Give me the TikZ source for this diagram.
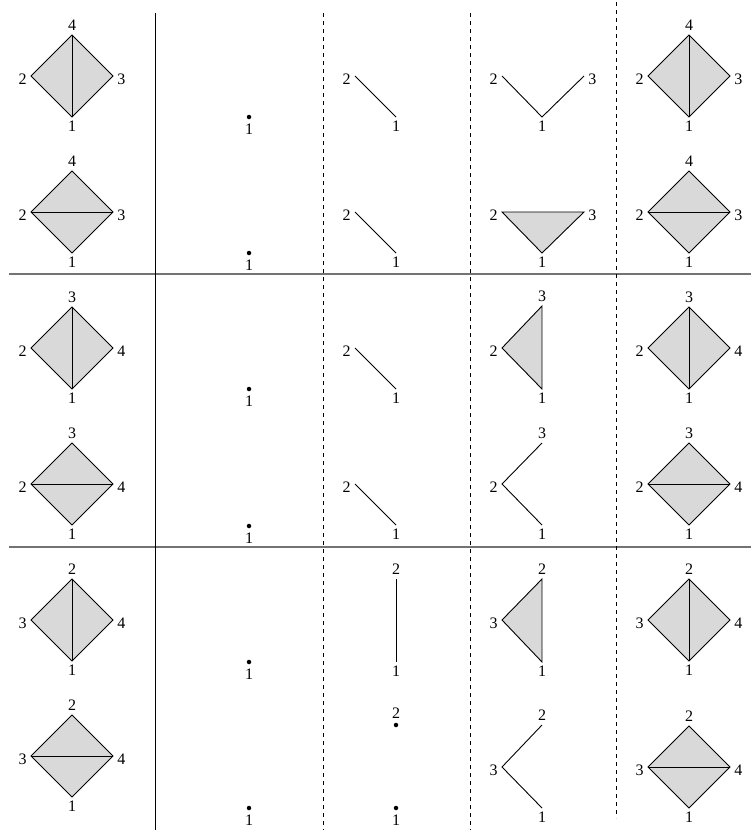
\documentclass[tikz,border=0pt]{standalone}
\usepackage{fontspec}
\setmainfont{Liberation Serif}
\usetikzlibrary{positioning}

% rhombus with one diagonal: name, x, y, top, left, right, bottom, diagonal ends
\newcommand{\rhombcell}[9]{%
  \coordinate (#1t) at (#2,#3-41);
  \coordinate (#1l) at (#2-41,#3);
  \coordinate (#1r) at (#2+41,#3);
  \coordinate (#1b) at (#2,#3+41);
  \filldraw[face] (#1t) -- (#1l) -- (#1b) -- (#1r) -- cycle;
  \draw[edge] (#1#8) -- (#1#9);
  \node[above] (#1T) at (#1t) {#4};
  \node[side,left] (#1L) at (#1l) {#5};
  \node[side,right] (#1R) at (#1r) {#6};
  \node[below] (#1B) at (#1b) {#7};
}

\begin{document}
\begin{tikzpicture}[x=1pt,y=-1pt,
  every node/.style={font=\fontsize{16}{19}\selectfont,inner sep=4.2pt},
  face/.style={draw,fill=black!15,line width=0.9pt},
  edge/.style={line width=0.9pt},
  side/.style={yshift=-3pt},
  vdot/.style={circle,fill,inner sep=0pt,minimum size=4.5pt},
  rule/.style={line width=1.2pt,black!55},
  sep/.style={line width=0.7pt},
  dsep/.style={line width=0.7pt,dash pattern=on 4pt off 4pt}
]
\useasboundingbox (0,0) rectangle (751,830);

% grid
\draw[rule] (9,274) -- (751,274);
\draw[rule] (9,547) -- (751,547);
\draw[sep] (155,13) -- (155,830);
\draw[dsep] (323,13) -- (323,830);
\draw[dsep] (470,13) -- (470,830);
\draw[dsep] (616,2) -- (616,818);

% first column
\rhombcell{pa}{72}{76}{4}{2}{3}{1}{t}{b}
\rhombcell{pb}{72}{212}{4}{2}{3}{1}{l}{r}
\rhombcell{pc}{72}{348}{3}{2}{4}{1}{t}{b}
\rhombcell{pd}{72}{484}{3}{2}{4}{1}{l}{r}
\rhombcell{pe}{72}{620}{2}{3}{4}{1}{t}{b}
\rhombcell{pf}{72}{756}{2}{3}{4}{1}{l}{r}

% vertices
\foreach \n/\y in {a/117,b/253,c/389,d/526,e/662,f/808} {
  \node[vdot] (d\n) at (249,\y) {};
  \node[below=0pt of d\n] (d\n1) {1};
}

% edges
\foreach \n/\u/\v in {a/76/117,b/212/253,c/348/389,d/484/525} {
  \coordinate (e\n2) at (355,\u);
  \coordinate (e\n1) at (396,\v);
  \draw[edge] (e\n2) -- (e\n1);
  \node[side,left] (e\n2l) at (e\n2) {2};
  \node[below] (e\n1l) at (e\n1) {1};
}
\coordinate (ee2) at (396,579);
\coordinate (ee1) at (396,662);
\draw[edge] (ee2) -- (ee1);
\node[above] (ee2l) at (ee2) {2};
\node[below] (ee1l) at (ee1) {1};
\node[vdot] (ef2) at (396,725) {};
\node[vdot] (ef1) at (396,808) {};
\node[above=0pt of ef2] (ef2l) {2};
\node[below=0pt of ef1] (ef1l) {1};

% triangles and paths
\coordinate (fa2) at (502,76);
\coordinate (fa1) at (542,117);
\coordinate (fa3) at (584,76);
\draw[edge] (fa2) -- (fa1) -- (fa3);
\node[side,left] (fa2l) at (fa2) {2};
\node[side,right] (fa3l) at (fa3) {3};
\node[below] (fa1l) at (fa1) {1};

\coordinate (fb2) at (502,212);
\coordinate (fb1) at (542,253);
\coordinate (fb3) at (584,212);
\filldraw[face] (fb2) -- (fb1) -- (fb3) -- cycle;
\node[side,left] (fb2l) at (fb2) {2};
\node[side,right] (fb3l) at (fb3) {3};
\node[below] (fb1l) at (fb1) {1};

\coordinate (fc3) at (542,306);
\coordinate (fc2) at (502,348);
\coordinate (fc1) at (542,389);
\filldraw[face] (fc3) -- (fc2) -- (fc1) -- cycle;
\node[above] (fc3l) at (fc3) {3};
\node[side,left] (fc2l) at (fc2) {2};
\node[below] (fc1l) at (fc1) {1};

\coordinate (fd3) at (542,443);
\coordinate (fd2) at (502,484);
\coordinate (fd1) at (542,525);
\draw[edge] (fd3) -- (fd2) -- (fd1);
\node[above] (fd3l) at (fd3) {3};
\node[side,left] (fd2l) at (fd2) {2};
\node[below] (fd1l) at (fd1) {1};

\coordinate (fe2) at (542,579);
\coordinate (fe3) at (502,620);
\coordinate (fe1) at (542,662);
\filldraw[face] (fe2) -- (fe3) -- (fe1) -- cycle;
\node[above] (fe2l) at (fe2) {2};
\node[side,left] (fe3l) at (fe3) {3};
\node[below] (fe1l) at (fe1) {1};

\coordinate (ff2) at (542,725);
\coordinate (ff3) at (502,767);
\coordinate (ff1) at (542,808);
\draw[edge] (ff2) -- (ff3) -- (ff1);
\node[above] (ff2l) at (ff2) {2};
\node[side,left] (ff3l) at (ff3) {3};
\node[below] (ff1l) at (ff1) {1};

% last column
\rhombcell{qa}{689}{76}{4}{2}{3}{1}{t}{b}
\rhombcell{qb}{689}{212}{4}{2}{3}{1}{l}{r}
\rhombcell{qc}{689}{348}{3}{2}{4}{1}{t}{b}
\rhombcell{qd}{689}{484}{3}{2}{4}{1}{l}{r}
\rhombcell{qe}{689}{620}{2}{3}{4}{1}{t}{b}
\rhombcell{qf}{689}{767}{2}{3}{4}{1}{l}{r}
\end{tikzpicture}
\end{document}
